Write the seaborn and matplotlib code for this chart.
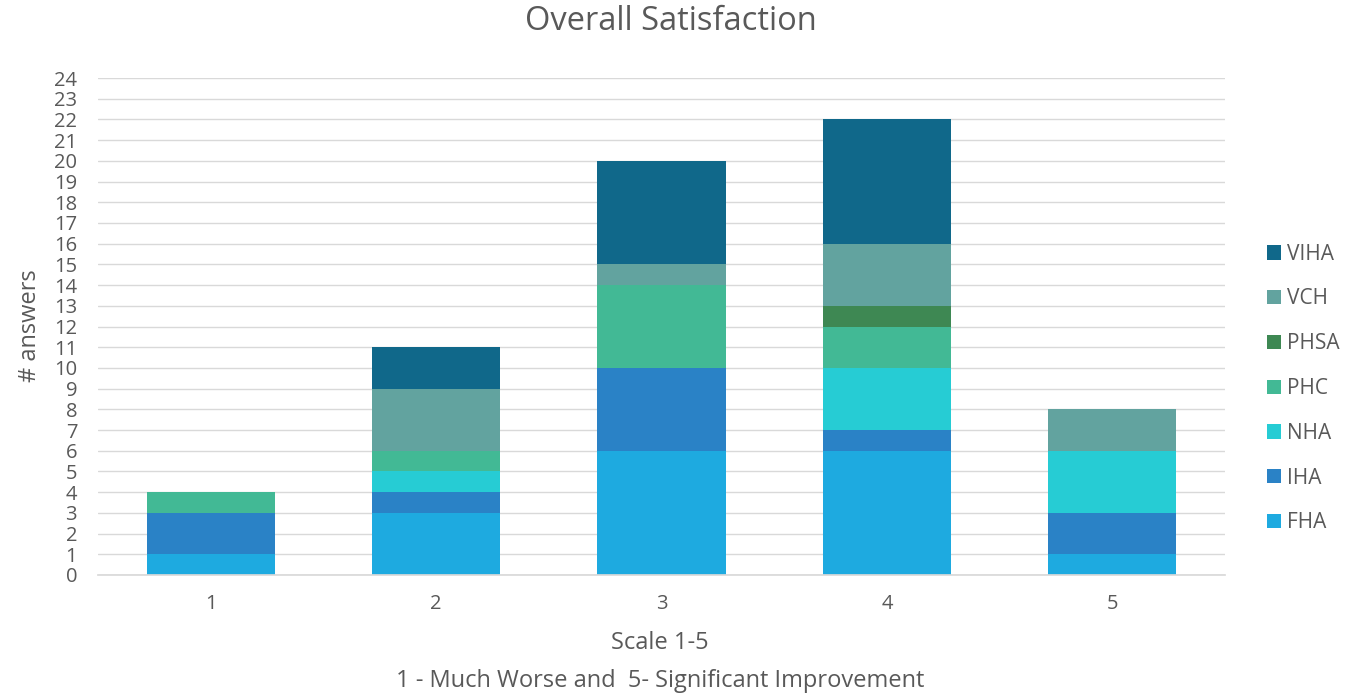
import matplotlib
matplotlib.use("Agg")
import matplotlib.pyplot as plt
import seaborn as sns
import pandas as pd
import numpy as np
from matplotlib.patches import Patch

categories = ["1", "2", "3", "4", "5"]
series_names = ["FHA", "IHA", "NHA", "PHC", "PHSA", "VCH", "VIHA"]
FHA = [1, 3, 6, 6, 1]
IHA = [2, 1, 4, 1, 2]
NHA = [0, 1, 0, 3, 3]
PHC = [1, 1, 4, 2, 0]
PHSA = [0, 0, 0, 1, 0]
VCH = [0, 3, 1, 3, 2]
VIHA = [0, 2, 5, 6, 0]
colors = ["#1EAAE0", "#2A82C6", "#26CCD4", "#42B995", "#3E8853", "#62A39F", "#10688A"]
yticks = list(range(0, 25))

sns.set_theme(style="white")
plt.rcParams["font.family"] = ["Open Sans", "DejaVu Sans"]
text_color = "#595959"

values = [FHA, IHA, NHA, PHC, PHSA, VCH, VIHA]
cum = np.cumsum(np.array(values), axis=0)

W, H = 1358, 695
fig = plt.figure(figsize=(W / 100, H / 100), dpi=100)
ax = fig.add_axes([98 / W, 1 - 575 / H, (1225 - 98) / W, (575 - 78) / H])

for i in range(len(series_names) - 1, -1, -1):
    df = pd.DataFrame({"cat": categories, "val": cum[i]})
    sns.barplot(data=df, x="cat", y="val", color=colors[i], width=0.568,
                saturation=1, ax=ax, linewidth=0, order=categories)

ax.set_xlim(-0.5, 4.5)
ax.set_ylim(0, 24)
ax.set_yticks(yticks)
ax.set_yticklabels([str(t) for t in yticks])
ax.yaxis.grid(True, color="#d9d9d9", linewidth=1.0)
ax.set_axisbelow(True)
for s in ["top", "right", "left"]:
    ax.spines[s].set_visible(False)
ax.spines["bottom"].set_color("#d9d9d9")
ax.tick_params(axis="both", length=0, labelsize=14.5, colors=text_color)
ax.tick_params(axis="x", pad=14)
ax.tick_params(axis="y", pad=15)
ax.set_xlabel("")
ax.set_ylabel("")

fig.text(660 / W, 1 - 643 / H, "Scale 1-5", fontsize=17, color=text_color,
         ha="center", va="center")
fig.text(660 / W, 1 - 681 / H, "1 - Much Worse and  5- Significant Improvement",
         fontsize=17, color=text_color, ha="center", va="center")
fig.text(30 / W, 1 - 326 / H, "# answers", fontsize=17, color=text_color,
         ha="center", va="center", rotation=90)
fig.text(671 / W, 1 - 22 / H, "Overall Satisfaction", fontsize=23.5,
         color=text_color, ha="center", va="center")

handles = [Patch(facecolor=colors[i], edgecolor="none", label=series_names[i])
           for i in range(len(series_names) - 1, -1, -1)]
leg = fig.legend(handles=handles, loc="center left",
                 bbox_to_anchor=(1267 / W, 1 - 388.5 / H),
                 frameon=False, fontsize=15, handlelength=0.67, handleheight=0.67,
                 handletextpad=0.3, labelspacing=1.14, borderpad=0, borderaxespad=0)
for t in leg.get_texts():
    t.set_color(text_color)

fig.savefig("out.png", dpi=100)
